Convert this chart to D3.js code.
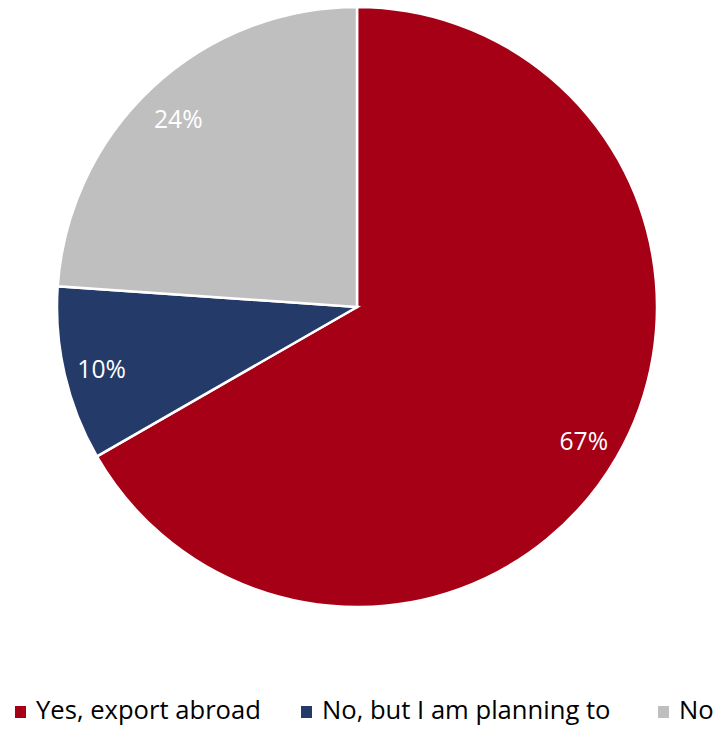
<!DOCTYPE html>
<html><head><meta charset="utf-8">
<script src="https://cdn.jsdelivr.net/npm/d3@7"></script>
<style>body{margin:0;background:#fff}svg{display:block}</style>
</head><body>
<script>
const categories = ["Yes, export abroad", "No, but I am planning to", "No"];
const values = [66.7, 9.4, 23.9];
const labels = ["67%", "10%", "24%"];
const colors = ["#A50016", "#243A69", "#BFBFBF"];

const W = 718, H = 729;
const cx = 357, cy = 307, R = 300;
const font = "'Open Sans', sans-serif";
const fs = 26, sx = 0.985;

const svg = d3.select("body").append("svg").attr("width", W).attr("height", H);
const data = categories.map((c, i) => ({c, v: values[i], l: labels[i], col: colors[i]}));

const pie = d3.pie().value(d => d.v).sort(null);
const arc = d3.arc().innerRadius(0).outerRadius(R);
const labelArc = d3.arc().innerRadius(262).outerRadius(262);

const g = svg.append("g").attr("transform", `translate(${cx},${cy})`);
const arcs = pie(data);
g.selectAll("path").data(arcs).join("path")
  .attr("d", arc).attr("fill", d => d.data.col)
  .attr("stroke", "#fff").attr("stroke-width", 2.5).attr("stroke-linejoin", "miter");

g.selectAll("text").data(arcs).join("text")
  .attr("transform", d => { const [x, y] = labelArc.centroid(d); return `translate(${x},${y + 3}) scale(0.95,1)`; })
  .attr("text-anchor", "middle").attr("dy", "0.35em")
  .attr("fill", "#fff").attr("font-family", font).attr("font-size", fs)
  .text(d => d.data.l);

const legX = [15, 301, 658];
const leg = svg.append("g");
data.forEach((d, i) => {
  leg.append("rect").attr("x", legX[i]).attr("y", 706).attr("width", 11).attr("height", 12).attr("fill", d.col);
  leg.append("text").attr("transform", `translate(${legX[i] + 21},719) scale(${sx},1)`)
    .attr("font-family", font).attr("font-size", fs).attr("fill", "#000").text(d.c);
});
</script>
</body></html>
